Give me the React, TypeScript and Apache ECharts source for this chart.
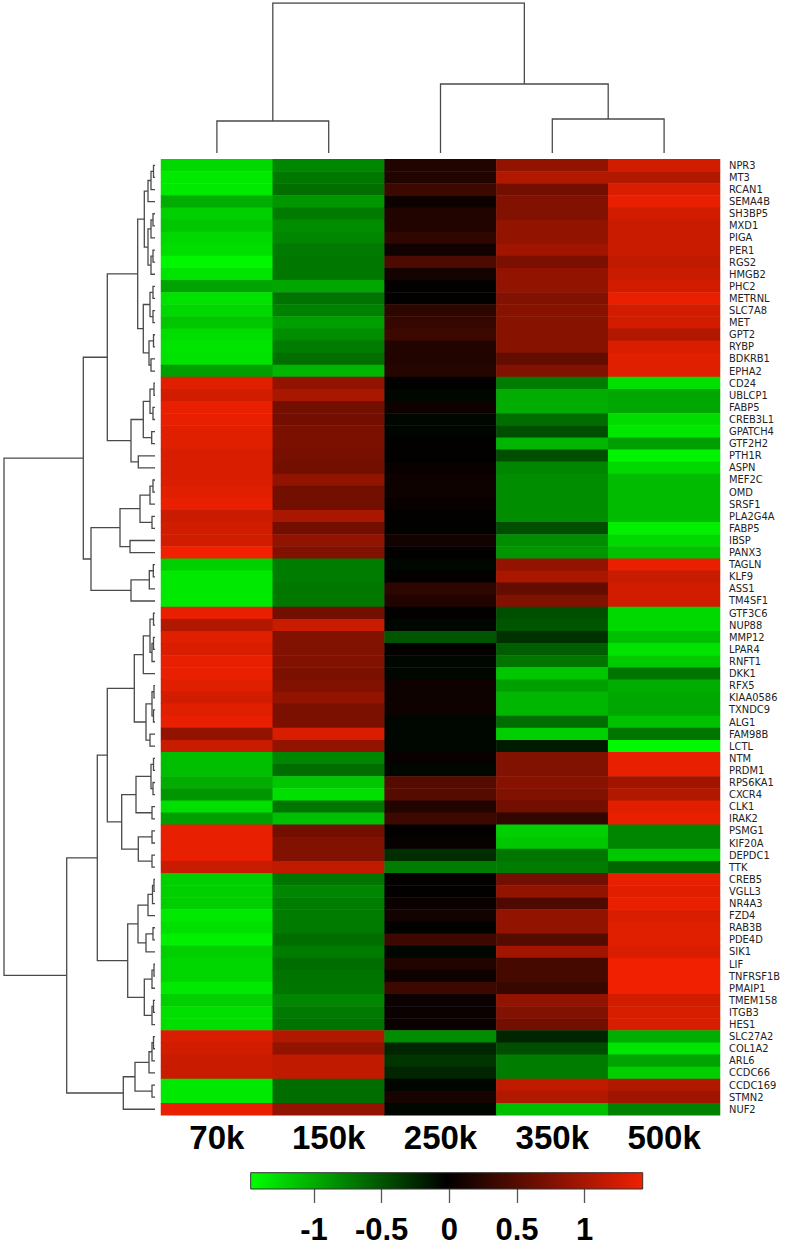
import React, { useEffect, useRef } from 'react';
import * as echarts from 'echarts';

const columns = ['70k', '150k', '250k', '350k', '500k'];

const genes = [
  'NPR3', 'MT3', 'RCAN1', 'SEMA4B', 'SH3BP5', 'MXD1', 'PIGA', 'PER1', 'RGS2', 'HMGB2',
  'PHC2', 'METRNL', 'SLC7A8', 'MET', 'GPT2', 'RYBP', 'BDKRB1', 'EPHA2', 'CD24', 'UBLCP1',
  'FABP5', 'CREB3L1', 'GPATCH4', 'GTF2H2', 'PTH1R', 'ASPN', 'MEF2C', 'OMD', 'SRSF1', 'PLA2G4A',
  'FABP5', 'IBSP', 'PANX3', 'TAGLN', 'KLF9', 'ASS1', 'TM4SF1', 'GTF3C6', 'NUP88', 'MMP12',
  'LPAR4', 'RNFT1', 'DKK1', 'RFX5', 'KIAA0586', 'TXNDC9', 'ALG1', 'FAM98B', 'LCTL', 'NTM',
  'PRDM1', 'RPS6KA1', 'CXCR4', 'CLK1', 'IRAK2', 'PSMG1', 'KIF20A', 'DEPDC1', 'TTK', 'CREB5',
  'VGLL3', 'NR4A3', 'FZD4', 'RAB3B', 'PDE4D', 'SIK1', 'LIF', 'TNFRSF1B', 'PMAIP1', 'TMEM158',
  'ITGB3', 'HES1', 'SLC27A2', 'COL1A2', 'ARL6', 'CCDC66', 'CCDC169', 'STMN2', 'NUF2',
];

const v70k = [
  -1.25, -1.35, -1.35, -1.0, -1.2, -1.15, -1.25, -1.28, -1.42, -1.32,
  -0.95, -1.3, -1.25, -1.15, -1.28, -1.32, -1.3, -0.92, 1.33, 1.24,
  1.38, 1.38, 1.33, 1.33, 1.29, 1.29, 1.29, 1.33, 1.38, 1.19,
  1.24, 1.24, 1.43, -1.2, -1.34, -1.34, -1.34, 1.38, 1.05, 1.33,
  1.29, 1.38, 1.38, 1.33, 1.24, 1.33, 1.38, 0.86, 1.19, -1.1,
  -1.1, -1.0, -0.87, -1.29, -0.92, 1.38, 1.38, 1.38, 1.19, -1.2,
  -1.2, -1.2, -1.34, -1.29, -1.38, -1.2, -1.24, -1.24, -1.34, -1.2,
  -1.29, -1.29, 1.29, 1.24, 1.19, 1.19, -1.34, -1.34, 1.38,
];
const v150k = [
  -0.78, -0.7, -0.65, -0.87, -0.72, -0.82, -0.78, -0.71, -0.7, -0.7,
  -0.97, -0.68, -0.76, -0.92, -0.82, -0.73, -0.65, -1.05, 0.86, 1.0,
  0.67, 0.67, 0.72, 0.72, 0.7, 0.67, 0.86, 0.67, 0.67, 1.0,
  0.67, 0.86, 0.76, -0.73, -0.73, -0.7, -0.7, 0.67, 1.19, 0.76,
  0.76, 0.76, 0.72, 0.76, 0.86, 0.72, 0.72, 1.29, 0.86, -0.78,
  -0.64, -1.15, -1.29, -0.69, -1.1, 0.67, 0.76, 0.76, 1.14, -0.69,
  -0.78, -0.73, -0.73, -0.71, -0.64, -0.73, -0.64, -0.67, -0.69, -0.78,
  -0.71, -0.67, 1.05, 0.86, 1.14, 1.14, -0.64, -0.64, 0.86,
];
const v250k = [
  0.18, 0.18, 0.35, 0.05, 0.18, 0.18, 0.27, 0.08, 0.44, 0.1,
  0.0, 0.0, 0.25, 0.3, 0.35, 0.18, 0.18, 0.2, 0.0, -0.06,
  0.06, -0.06, -0.05, 0.0, 0.0, 0.03, 0.06, 0.06, 0.03, 0.0,
  0.0, 0.09, 0.0, -0.06, 0.0, 0.25, 0.18, 0.0, -0.06, -0.5,
  0.0, -0.06, -0.06, 0.06, 0.06, 0.06, -0.06, -0.06, -0.06, 0.03,
  -0.06, 0.5, 0.5, 0.18, 0.35, 0.0, 0.02, -0.28, -0.73, 0.0,
  0.0, 0.04, 0.09, -0.03, 0.35, -0.06, 0.18, 0.06, 0.35, 0.04,
  0.04, 0.04, -0.82, -0.23, -0.32, -0.23, -0.05, 0.12, -0.06,
];
const v350k = [
  0.86, 1.05, 0.67, 0.76, 0.76, 0.86, 0.86, 0.95, 0.72, 0.86,
  0.86, 0.76, 0.8, 0.8, 0.8, 0.8, 0.57, 0.76, -0.73, -1.0,
  -1.0, -0.64, -0.46, -1.05, -0.46, -0.78, -0.82, -0.82, -0.82, -0.82,
  -0.46, -0.82, -0.87, 0.86, 1.0, 0.57, 0.76, -0.46, -0.5, -0.3,
  -0.55, -0.69, -1.15, -0.92, -1.05, -1.05, -0.64, -1.2, -0.18, 0.76,
  0.76, 0.8, 0.76, 0.67, 0.28, -1.2, -1.15, -0.69, -0.73, 0.67,
  0.86, 0.45, 0.86, 0.86, 0.5, 0.95, 0.4, 0.4, 0.32, 0.86,
  0.76, 0.67, -0.23, -0.46, -0.73, -0.73, 1.14, 1.05, -1.1,
];
const v500k = [
  1.24, 1.05, 1.29, 1.38, 1.24, 1.19, 1.19, 1.19, 1.14, 1.19,
  1.24, 1.38, 1.24, 1.24, 1.05, 1.29, 1.33, 1.33, -1.29, -0.97,
  -0.97, -1.27, -1.33, -0.92, -1.4, -1.25, -1.08, -1.08, -1.08, -1.08,
  -1.38, -1.25, -1.12, 1.38, 1.19, 1.24, 1.24, -1.25, -1.25, -1.1,
  -1.3, -1.17, -0.69, -1.0, -0.97, -0.97, -1.12, -0.69, -1.43, 1.38,
  1.38, 0.95, 1.05, 1.33, 1.38, -0.78, -0.78, -1.15, -0.6, 1.38,
  1.33, 1.38, 1.29, 1.33, 1.33, 1.29, 1.43, 1.43, 1.43, 1.24,
  1.29, 1.29, -1.0, -1.32, -0.95, -1.2, 1.05, 0.95, -0.75,
];

const colorTicks = [-1, -0.5, 0, 0.5, 1];
const scaleMin = -1.467;
const scaleMax = 1.428;

// hclust-style merges: [left, right, height]; negative = leaf (1-based), positive = earlier merge (1-based)
const rowMerge = [
  [-1, -2, 1.5], [1, -3, 4], [2, -4, 7], [-5, -6, 2], [4, -7, 4],
  [-8, -9, 2], [6, -10, 4], [5, 7, 7], [3, 8, 10.7], [-11, -12, 2],
  [-13, -14, 2], [10, 11, 5], [-15, -16, 1.5], [-17, -18, 4], [13, 14, 6],
  [12, 15, 11.7], [9, 16, 17.3], [-19, -20, 1], [-21, -22, 2], [18, 19, 5],
  [-23, -24, 3.3], [20, 21, 11.7], [-25, -26, 16.7], [22, 23, 24], [17, 24, 47.7],
  [-27, -28, 2], [26, -29, 5], [-30, -31, 3], [27, 28, 15], [-32, -33, 25],
  [29, 30, 35], [-34, -35, 1.7], [32, -36, 5.7], [33, -37, 24], [31, 34, 64],
  [25, 35, 71.7], [-38, -39, 1.5], [-40, -41, 1.5], [38, -42, 3], [37, 39, 5],
  [40, -43, 11.7], [-44, -45, 1], [-46, -47, 1.5], [42, 43, 3], [-48, -49, 5],
  [44, 45, 9], [41, 46, 20.7], [-50, -51, 1.5], [-52, -53, 2], [48, 49, 4],
  [-54, -55, 3], [50, 51, 19], [-56, -57, 3], [-58, -59, 3], [53, 54, 16.7],
  [52, 55, 33.3], [47, 56, 47.7], [-60, -61, 1], [58, -62, 2.5], [59, -63, 7],
  [-64, -65, 2], [61, -66, 9], [60, 62, 17], [-67, -68, 1], [64, -69, 3],
  [-70, -71, 1.5], [66, -72, 3], [65, 67, 10.7], [63, 68, 27.3], [57, 69, 57.7],
  [-73, -74, 1.5], [71, -75, 3], [72, -76, 6], [-77, -78, 3], [73, 74, 20],
  [75, -79, 31.7], [70, 76, 88.3], [36, 77, 151],
];
const rowTreeHeight = 151;

const colMerge = [
  [-1, -2, 32], [-4, -5, 34], [-3, 2, 69], [1, 3, 150],
];
const colTreeHeight = 150;

function dendroSegments(merge: number[][], horizontal: boolean) {
  const pos: number[] = [];
  const hgt: number[] = [];
  const get = (k: number) => (k < 0 ? [-k - 1 + 0.5, 0] : [pos[k - 1], hgt[k - 1]]);
  const out: any[] = [];
  merge.forEach(([a, b, h], i) => {
    const [pa, ha] = get(a);
    const [pb, hb] = get(b);
    pos[i] = (pa + pb) / 2;
    hgt[i] = h;
    const pts = [[pa, ha], [pa, h], [pb, h], [pb, hb]];
    out.push({ coords: horizontal ? pts.map(([p, hh]) => [hh, p]) : pts });
  });
  return out;
}

const GREEN = '#00ff00';
const RED = '#f02000';

export default function App() {
  const ref = useRef<HTMLDivElement>(null);
  useEffect(() => {
    if (!ref.current) return;
    const chart = echarts.init(ref.current, null, { renderer: 'svg' });
    const cols = [v70k, v150k, v250k, v350k, v500k];
    const heat: number[][] = [];
    cols.forEach((arr, c) => arr.forEach((v, r) => heat.push([c, r, v])));

    const heatTop = 159.3;
    const heatH = 956;
    const heatLeft = 161;
    const heatW = 559;
    const lineStyle = { color: '#4a4a4a', width: 1.3, opacity: 1 };

    chart.setOption({
      animation: false,
      textStyle: { fontFamily: "'Liberation Sans', Arial, sans-serif" },
      grid: [
        { left: heatLeft, top: heatTop, width: heatW, height: heatH },
        { left: 4, top: heatTop, width: rowTreeHeight, height: heatH },
        { left: heatLeft, top: 3, width: heatW, height: colTreeHeight },
        { left: 250.7, top: 1172.7, width: 392, height: 16.3 },
      ],
      xAxis: [
        {
          gridIndex: 0, type: 'category', data: columns, position: 'bottom',
          axisLine: { show: false }, axisTick: { show: false },
          axisLabel: { fontSize: 33, fontWeight: 'bold', color: '#000', margin: 6, interval: 0 },
        },
        { gridIndex: 1, type: 'value', min: 0, max: rowTreeHeight, inverse: true, show: false },
        { gridIndex: 2, type: 'value', min: 0, max: columns.length, show: false },
        {
          gridIndex: 3, type: 'value', min: scaleMin, max: scaleMax, position: 'bottom',
          axisLine: { show: false }, splitLine: { show: false },
          axisTick: { show: true, length: 14, customValues: colorTicks, lineStyle: { color: '#555', width: 1.3 } },
          axisLabel: {
            customValues: colorTicks, fontSize: 31, lineHeight: 26, fontWeight: 'bold',
            color: '#000', margin: 27,
          },
        },
      ],
      yAxis: [
        {
          gridIndex: 0, type: 'category', data: genes, inverse: true, position: 'right',
          axisLine: { show: false }, axisTick: { show: false },
          axisLabel: {
            interval: 0, fontSize: 11, color: '#222', margin: 9,
            fontFamily: "'Liberation Sans Narrow', 'DejaVu Sans Condensed', Arial, sans-serif",
          },
        },
        { gridIndex: 1, type: 'value', min: 0, max: genes.length, inverse: true, show: false },
        { gridIndex: 2, type: 'value', min: 0, max: colTreeHeight, show: false },
        { gridIndex: 3, type: 'value', min: 0, max: 1, show: false },
      ],
      visualMap: {
        type: 'continuous', show: false, min: scaleMin, max: scaleMax, seriesIndex: 0, dimension: 2,
        inRange: { color: [GREEN, '#000000', RED] },
      },
      series: [
        {
          type: 'heatmap', xAxisIndex: 0, yAxisIndex: 0, data: heat,
          itemStyle: { borderWidth: 0 }, emphasis: { disabled: true }, silent: true,
        },
        {
          type: 'lines', coordinateSystem: 'cartesian2d', xAxisIndex: 1, yAxisIndex: 1,
          polyline: true, silent: true, lineStyle, data: dendroSegments(rowMerge, true),
        },
        {
          type: 'lines', coordinateSystem: 'cartesian2d', xAxisIndex: 2, yAxisIndex: 2,
          polyline: true, silent: true, lineStyle, data: dendroSegments(colMerge, false),
        },
        {
          type: 'custom', xAxisIndex: 3, yAxisIndex: 3, silent: true,
          data: [[scaleMin, scaleMax]],
          renderItem: (_p: any, api: any) => {
            const p0 = api.coord([api.value(0), 0]);
            const p1 = api.coord([api.value(1), 1]);
            return {
              type: 'rect',
              shape: { x: p0[0], y: p1[1], width: p1[0] - p0[0], height: p0[1] - p1[1] },
              style: {
                fill: new echarts.graphic.LinearGradient(0, 0, 1, 0, [
                  { offset: 0, color: GREEN },
                  { offset: 0.5, color: '#000000' },
                  { offset: 1, color: RED },
                ]),
                stroke: '#333', lineWidth: 1,
              },
            };
          },
        },
      ],
    });
    return () => chart.dispose();
  }, []);
  return (
    <div
      ref={ref}
      style={{ position: 'absolute', left: 0, top: 0, width: 787, height: 1248, background: '#fff' }}
    />
  );
}
